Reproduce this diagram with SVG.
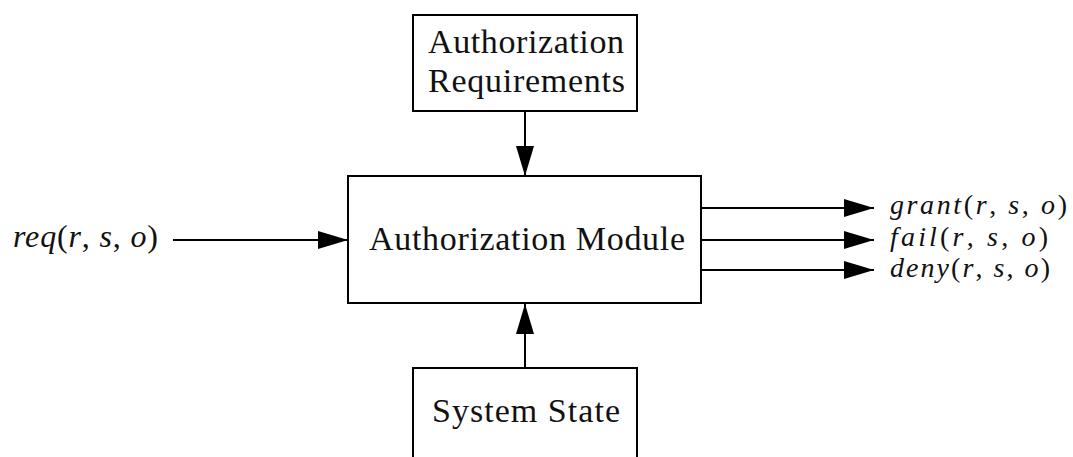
<svg xmlns="http://www.w3.org/2000/svg" width="1073" height="457" viewBox="0 0 1073 457">
  <style>
    .box { fill: #fff; stroke: #000; stroke-width: 2; }
    .lbl { font-family: "Liberation Serif", "DejaVu Serif", serif; font-size: 34px; fill: #111; }
    .math { font-family: "Liberation Serif", "DejaVu Serif", serif; font-size: 32px; fill: #111; }
    .out { font-size: 28px; }
    .it { font-style: italic; }
    .edge { stroke: #000; stroke-width: 2; fill: none; marker-end: url(#head); }
  </style>
  <defs>
    <marker id="head" markerUnits="userSpaceOnUse" markerWidth="30" markerHeight="18" refX="30" refY="9" orient="auto">
      <path d="M0,0 L30,9 L0,18 Z" fill="#000"/>
    </marker>
  </defs>
  <rect width="1073" height="457" fill="#fff"/>

  <g id="connectors">
    <line class="edge" x1="525" y1="111" x2="525" y2="176"/>
    <line class="edge" x1="525" y1="368" x2="525" y2="304"/>
    <line class="edge" x1="173" y1="240" x2="348" y2="240"/>
    <line class="edge" x1="701" y1="208" x2="874" y2="208"/>
    <line class="edge" x1="701" y1="240" x2="874" y2="240"/>
    <line class="edge" x1="701" y1="270" x2="874" y2="270"/>
  </g>

  <g id="auth-requirements">
    <rect class="box" x="413" y="15" width="224" height="96"/>
    <text class="lbl" x="428" y="53" textLength="196" lengthAdjust="spacing">Authorization</text>
    <text class="lbl" x="428" y="92" textLength="197" lengthAdjust="spacing">Requirements</text>
  </g>

  <g id="auth-module">
    <rect class="box" x="348" y="176" width="353" height="127"/>
    <text class="lbl" x="369" y="250" textLength="316" lengthAdjust="spacing">Authorization Module</text>
  </g>

  <g id="system-state">
    <rect class="box" x="413" y="368" width="224" height="100"/>
    <text class="lbl" x="432" y="422" textLength="188" lengthAdjust="spacing">System State</text>
  </g>

  <g id="input-label">
    <text class="math" x="13" y="247" textLength="145" lengthAdjust="spacing"><tspan class="it">req</tspan>(<tspan class="it">r</tspan>, <tspan class="it">s</tspan>, <tspan class="it">o</tspan>)</text>
  </g>

  <g id="output-labels">
    <text class="math out" x="890" y="214" textLength="177" lengthAdjust="spacing"><tspan class="it">grant</tspan>(<tspan class="it">r</tspan>, <tspan class="it">s</tspan>, <tspan class="it">o</tspan>)</text>
    <text class="math out" x="890" y="246" textLength="158" lengthAdjust="spacing"><tspan class="it">fail</tspan>(<tspan class="it">r</tspan>, <tspan class="it">s</tspan>, <tspan class="it">o</tspan>)</text>
    <text class="math out" x="890" y="277" textLength="160" lengthAdjust="spacing"><tspan class="it">deny</tspan>(<tspan class="it">r</tspan>, <tspan class="it">s</tspan>, <tspan class="it">o</tspan>)</text>
  </g>
</svg>
